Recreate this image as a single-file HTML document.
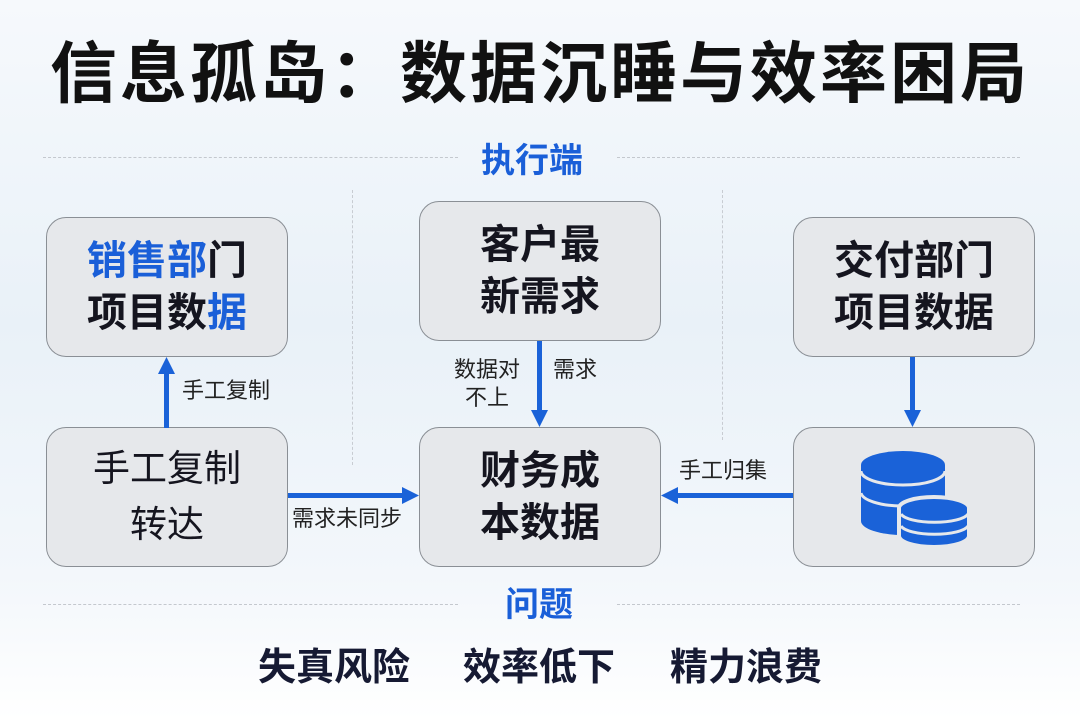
<!DOCTYPE html>
<html><head><meta charset="utf-8"><style>
*{margin:0;padding:0;box-sizing:border-box}
body{width:1080px;height:720px;overflow:hidden;position:relative;font-family:"Liberation Sans","Noto Sans CJK SC",sans-serif;background:linear-gradient(180deg,#f6f9fc 0%,#e9f1f8 45%,#f3f7fb 80%,#ffffff 100%);}
.a{position:absolute}
.t{position:absolute;left:0;width:1080px;top:30px;text-align:center;font-size:67px;font-weight:bold;color:#111;letter-spacing:3px;line-height:90px}
.box{position:absolute;width:242px;height:140px;border:1.5px solid #8a8f95;border-radius:20px;background:#e6e8eb;display:flex;align-items:center;justify-content:center;text-align:center;font-size:40px;font-weight:bold;color:#15151f;line-height:52px}
.lab{position:absolute;font-size:22px;color:#222;line-height:28px}
.sec{position:absolute;font-size:34px;font-weight:bold;color:#1a5fd8;line-height:40px}
.hd{position:absolute;border-top:1.5px dashed #c4c8ce;height:0}
.vd{position:absolute;border-left:1.5px dashed #c8ccd2;width:0}
.bot{position:absolute;top:646px;font-size:38px;font-weight:bold;color:#161a33;line-height:44px}
</style></head><body>
<div class="t">信息孤岛：数据沉睡与效率困局</div>
<div class="hd" style="left:43px;top:157px;width:415px"></div>
<div class="hd" style="left:617px;top:157px;width:403px"></div>
<div class="sec" style="left:481px;top:141px">执行端</div>
<div class="hd" style="left:43px;top:604px;width:415px"></div>
<div class="hd" style="left:617px;top:604px;width:403px"></div>
<div class="sec" style="left:505px;top:585px">问题</div>
<div class="vd" style="left:352px;top:190px;height:275px"></div>
<div class="vd" style="left:722px;top:190px;height:250px"></div>

<div class="box" style="left:46px;top:217px"><div><span style="color:#1a5fd8">销售部</span>门<br>项目数<span style="color:#1a5fd8">据</span></div></div>
<div class="box" style="left:46px;top:427px;font-weight:normal;font-size:37px;line-height:56px"><div>手工复制<br>转达</div></div>
<div class="box" style="left:419px;top:201px"><div>客户最<br>新需求</div></div>
<div class="box" style="left:419px;top:427px"><div>财务成<br>本数据</div></div>
<div class="box" style="left:793px;top:217px"><div>交付部门<br>项目数据</div></div>
<div class="box" style="left:793px;top:427px"></div>

<svg class="a" style="left:0;top:0" width="1080" height="720">
<g fill="#1a62d8" stroke="none">
<rect x="164" y="372" width="5" height="56"/><polygon points="166.5,357 158,374 175,374"/>
<rect x="288" y="493" width="116" height="5"/><polygon points="419,495.5 402,487 402,504"/>
<rect x="537" y="341" width="5" height="72"/><polygon points="539.5,427 531,410 548,410"/>
<rect x="676" y="493" width="117" height="5"/><polygon points="661,495.5 678,487 678,504"/>
<rect x="910" y="357" width="5" height="56"/><polygon points="912.5,427 904,410 921,410"/>
</g>
<g fill="#1a62d8">
<path d="M861,465 a42,14 0 0 1 84,0 v56 a42,14 0 0 1 -84,0 z"/>
<path d="M899,508 a35,11 0 0 1 70,0 v28 a35,11 0 0 1 -70,0 z" stroke="#e6e8eb" stroke-width="4"/>
</g>
<g stroke="#e6e8eb" stroke-width="3" fill="none">
<path d="M861,471 a42,14 0 0 0 84,0"/>
<path d="M861,493 a42,14 0 0 0 40,13"/>
<path d="M901,514 a34,10 0 0 0 67,0"/>
<path d="M901,526 a34,10 0 0 0 67,0"/>
</g>
</svg>

<div class="lab" style="left:182px;top:377px">手工复制</div>
<div class="lab" style="left:292px;top:505px">需求未同步</div>
<div class="lab" style="left:450px;top:356px;text-align:center;width:74px">数据对<br>不上</div>
<div class="lab" style="left:553px;top:356px">需求</div>
<div class="lab" style="left:679px;top:457px">手工归集</div>

<div class="bot" style="left:258px">失真风险</div>
<div class="bot" style="left:463px">效率低下</div>
<div class="bot" style="left:670px">精力浪费</div>
</body></html>
